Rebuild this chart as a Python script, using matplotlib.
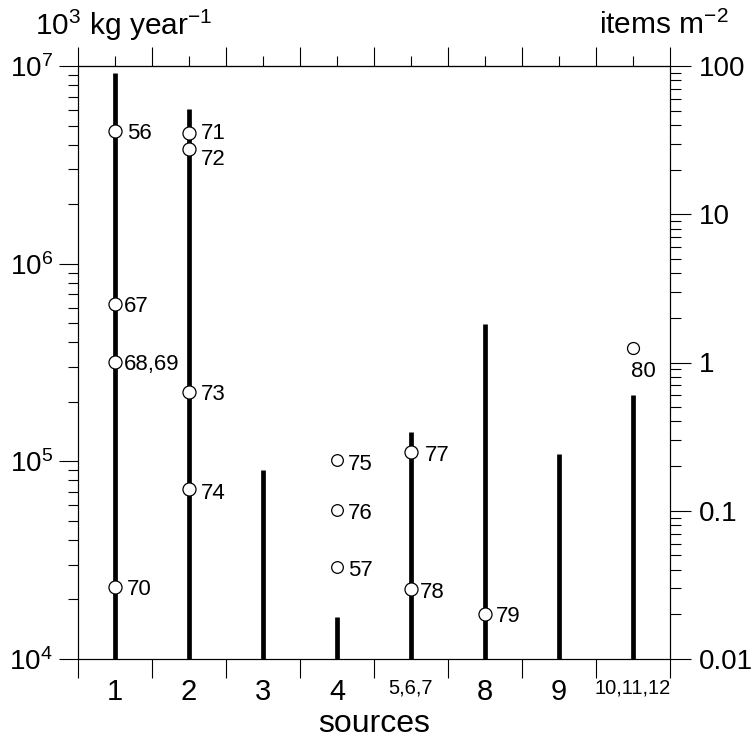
import numpy as np
import matplotlib
matplotlib.use("Agg")
import matplotlib.pyplot as plt

plt.rcParams['font.family'] = ['Liberation Sans', 'DejaVu Sans']
plt.rcParams['mathtext.fontset'] = 'custom'
plt.rcParams['mathtext.rm'] = 'Liberation Sans'
plt.rcParams['mathtext.it'] = 'Liberation Sans:italic'
plt.rcParams['mathtext.bf'] = 'Liberation Sans:bold'

# data
sources = ['1', '2', '3', '4', '5,6,7', '8', '9', '10,11,12']
# bar tops, 10^3 kg year^-1 (first seven sources)
bar_top_kg = [9.25e6, 6.06e6, 9.0e4, 1.63e4, 1.40e5, 4.94e5, 1.09e5]
# bar top for sources 10,11,12, items m^-2
bar_top_items = [0.6]

# individual estimates (open circles), 10^3 kg year^-1
pt_source = [1, 1, 1, 1, 2, 2, 2, 2, 4, 4, 4, 5, 5, 6]
pt_value = [4.71e6, 6.25e5, 3.18e5, 2.30e4, 4.57e6, 3.79e6, 2.23e5, 7.23e4,
            1.02e5, 5.68e4, 2.93e4, 1.12e5, 2.27e4, 1.69e4]
pt_label = ['56', '67', '68,69', '70', '71', '72', '73', '74',
            '75', '76', '57', '77', '78', '79']
# estimate for sources 10,11,12, items m^-2
pt80_value = [1.26]

# label offsets in pixels (right, down)
offsets = {'56': (12, 0), '67': (9, 0), '68,69': (9, 0), '70': (12, 0),
           '71': (12, -2), '72': (12, 8), '73': (12, 0), '74': (12, 2),
           '75': (11, 2), '76': (11, 1), '57': (11, 1),
           '77': (14, 1), '78': (9, 1), '79': (11, 0)}

fig = plt.figure(figsize=(7.56, 7.53), dpi=100)
ax = fig.add_axes([78 / 756, 1 - 659 / 753, 592 / 756, 593 / 753])
ax2 = ax.twinx()

x = np.arange(1, len(sources) + 1)
ax.set_xlim(0.5, len(sources) + 0.5)
ax.set_yscale('log')
ax.set_ylim(1e4, 1e7)
ax2.set_yscale('log')
ax2.set_ylim(0.01, 100)

# bars
ax.vlines(x[:len(bar_top_kg)], 1e4, bar_top_kg, color='black', lw=3.4)
ax2.vlines(x[len(bar_top_kg):], 0.01, bar_top_items, color='black', lw=3.4)

# circles
small = [4]
for s, v, l in zip(pt_source, pt_value, pt_label):
    ms = 8.4 if s in small else 9.4
    ax.plot(s, v, 'o', mfc='white', mec='black', ms=ms, mew=0.9, zorder=4)
    dx, dy = offsets[l]
    ax.annotate(l, (s, v), xytext=(dx, -dy), textcoords='offset pixels',
                ha='left', va='center_baseline', fontsize=16, zorder=5)
ax2.plot(x[-1:], pt80_value, 'o', mfc='white', mec='black', ms=8.6, mew=0.9, zorder=4)
ax2.annotate('80', (x[-1], pt80_value[0]), xytext=(10, -21), textcoords='offset pixels',
             ha='center', va='center_baseline', fontsize=16)

# x axis: labels at centres, long ticks at boundaries
bounds = np.arange(0.5, len(sources) + 1, 1.0)
ax.set_xticks(x)
ax.set_xticklabels(sources)
for lab in ax.get_xticklabels():
    if ',' in lab.get_text():
        lab.set_fontsize(14.5)
    else:
        lab.set_fontsize(21)
ax.set_xticks(bounds, minor=True)
ax.tick_params(axis='x', which='major', length=0, pad=14, top=False)
ax.tick_params(axis='x', which='minor', length=14, width=0.8, direction='out', top=False)
ax.set_xlabel('sources', fontsize=23, labelpad=2)

top = ax.secondary_xaxis('top')
top.set_xticks(x)
top.set_xticks(bounds, minor=True)
top.tick_params(which='major', length=7, width=0.8, direction='out', labeltop=False)
top.tick_params(which='minor', length=14, width=0.8, direction='out')
top.set_xticklabels([])

# left axis
ax.set_yticks([1e4, 1e5, 1e6, 1e7])
ax.set_yticklabels(['10$^4$', '10$^5$', '10$^6$', '10$^7$'], fontsize=20)
ax.tick_params(axis='y', which='major', length=14, width=0.8, direction='out', pad=4)
ax.tick_params(axis='y', which='minor', length=7, width=0.8, direction='out')

# right axis
ax2.set_yticks([0.01, 0.1, 1, 10, 100])
ax2.set_yticklabels(['0.01', '0.1', '1', '10', '100'], fontsize=20)
ax2.tick_params(axis='y', which='major', length=15, width=0.8, direction='out', pad=6)
ax2.tick_params(axis='y', which='minor', length=8, width=0.8, direction='out')

for a in (ax, ax2, top):
    for sp in a.spines.values():
        sp.set_linewidth(0.8)

fig.text(35 / 756, 1 - 25 / 753, '10$^3$ kg year$^{-1}$', fontsize=21.5, va='center', ha='left')
fig.text(729 / 756, 1 - 25 / 753, 'items m$^{-2}$', fontsize=21.5, va='center', ha='right')

fig.savefig('out.png', dpi=100)
